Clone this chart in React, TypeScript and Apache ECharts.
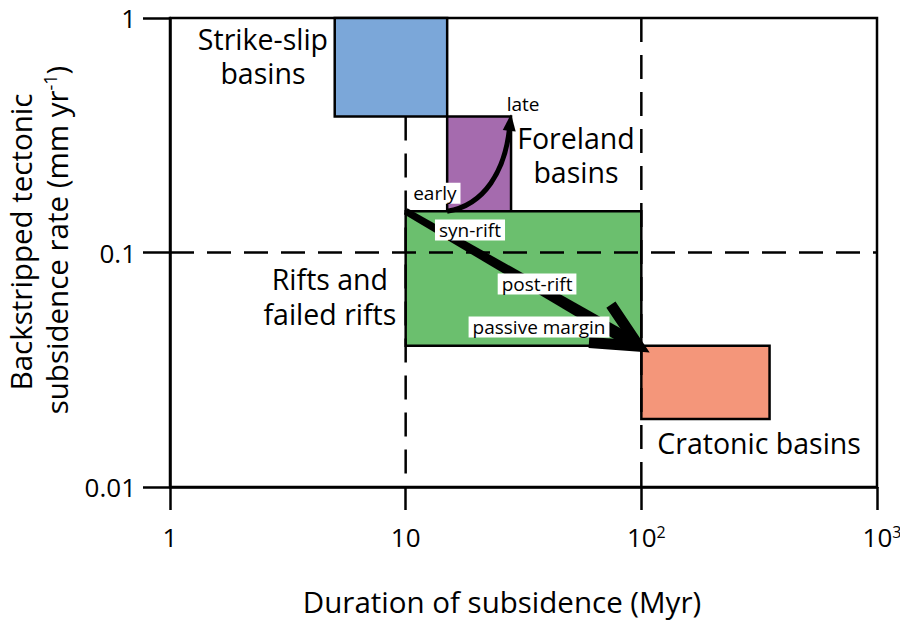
import React, { useEffect, useRef } from "react";
import * as echarts from "echarts";

const FONT = "'Open Sans', 'Noto Sans', sans-serif";

// Basin fields: duration of subsidence (Myr) and backstripped subsidence rate (mm/yr)
const basinNames = ["Strike-slip\nbasins", "Foreland\nbasins", "Rifts and\nfailed rifts", "Cratonic basins"];
const durationMin = [5, 15, 10, 100];
const durationMax = [15, 28, 100, 350];
const rateMin = [0.38, 0.15, 0.04, 0.0195];
const rateMax = [1, 0.38, 0.15, 0.04];
const nameX = [2.48, 52.8, 4.77, 316];
const nameY = [0.69, 0.26, 0.065, 0.0154];
const basinColors = ["#7BA7D9", "#A56BAE", "#6BBF6E", "#F4967A"];

// Axis ticks
const xTicks = [1, 10, 100, 1000];
const xTickLabels = ["1", "10", "{gap| }10{sup|2}", "{gap| }10{sup|3}"];
const yTicks = [0.01, 0.1, 1];
const yTickLabels = ["0.01", "0.1", "1"];

// Dashed guide lines (from -> to)
const guideX1 = [10, 100, 1];
const guideY1 = [0.38, 1, 0.1];
const guideX2 = [10, 100, 1000];
const guideY2 = [0.01, 0.01, 0.1];

// Evolution arrows
const forelandArrowX = [15, 21.7, 26.4, 28];
const forelandArrowY = [0.15, 0.159, 0.225, 0.39];
const riftArrowX = [10, 108];
const riftArrowY = [0.15, 0.0376];

// Phase labels
const phaseLabels = ["early", "late", "syn-rift", "post-rift", "passive margin"];
const phaseX = [13.3, 31.5, 18.75, 36.1, 36.8];
const phaseY = [0.179, 0.43, 0.1247, 0.0734, 0.0481];

const tickIndex = (ticks: number[], v: number) =>
  ticks.findIndex((t) => Math.abs(Math.log10(t) - Math.log10(v)) < 1e-6);

function buildOption(): any {
  const basinData = durationMin.map((x, i) => [x, durationMax[i], rateMin[i], rateMax[i]]);
  const guideData = guideX1.map((x, i) => [x, guideY1[i], guideX2[i], guideY2[i]]);
  const riftData = [[riftArrowX[0], riftArrowY[0], riftArrowX[1], riftArrowY[1]]];
  const forelandData = [forelandArrowX.flatMap((x, i) => [x, forelandArrowY[i]])];
  const phaseData = phaseX.map((x, i) => [x, phaseY[i]]);
  const nameData = nameX.map((x, i) => [x, nameY[i]]);

  return {
    animation: false,
    backgroundColor: "#ffffff",
    textStyle: { fontFamily: FONT },
    grid: {
      left: 170,
      right: 23,
      top: 18,
      bottom: 153,
      containLabel: false,
      outerBoundsMode: "none",
      show: true,
      borderColor: "#000",
      borderWidth: 2.5,
      backgroundColor: "transparent",
    },
    xAxis: {
      type: "log",
      logBase: 10,
      min: 1,
      max: 1000,
      axisLine: { show: true, lineStyle: { color: "#000", width: 2.5 } },
      axisTick: { show: true, length: 23, lineStyle: { color: "#000", width: 2.5 } },
      minorTick: { show: false },
      splitLine: { show: false },
      axisLabel: {
        margin: 37,
        fontSize: 26,
        color: "#000",
        fontFamily: FONT,
        hideOverlap: false,
        formatter: (v: number) => {
          const i = tickIndex(xTicks, v);
          return i >= 0 ? xTickLabels[i] : "";
        },
        rich: {
          sup: { fontSize: 16, verticalAlign: "top", color: "#000", fontFamily: FONT },
          gap: { width: 10, fontSize: 16, color: "#000", fontFamily: FONT },
        },
      },
    },
    yAxis: {
      type: "log",
      logBase: 10,
      min: 0.01,
      max: 1,
      axisLine: { show: true, lineStyle: { color: "#000", width: 2.5 } },
      axisTick: { show: true, length: 27, lineStyle: { color: "#000", width: 2.5 } },
      minorTick: { show: false },
      splitLine: { show: false },
      axisLabel: {
        margin: 34,
        fontSize: 26,
        color: "#000",
        fontFamily: FONT,
        formatter: (v: number) => {
          const i = tickIndex(yTicks, v);
          return i >= 0 ? yTickLabels[i] : "";
        },
      },
    },
    graphic: [
      {
        type: "text",
        x: 20,
        y: 242,
        rotation: Math.PI / 2,
        style: {
          text: "Backstripped tectonic",
          fontSize: 29.5,
          fontFamily: FONT,
          fill: "#000",
          align: "center",
          verticalAlign: "middle",
        },
      },
      {
        type: "text",
        x: 56,
        y: 240,
        rotation: Math.PI / 2,
        style: {
          text: "subsidence rate (mm yr{sup|-1})",
          fontSize: 29.5,
          fontFamily: FONT,
          fill: "#000",
          align: "center",
          verticalAlign: "middle",
          rich: {
            sup: { fontSize: 18, fontFamily: FONT, fill: "#000", verticalAlign: "top" },
          },
        },
      },
      {
        type: "text",
        x: 502,
        y: 601,
        style: {
          text: "Duration of subsidence (Myr)",
          fontSize: 29.5,
          fontFamily: FONT,
          fill: "#000",
          align: "center",
          verticalAlign: "middle",
        },
      },
    ],
    series: [
      {
        type: "custom",
        name: "basins",
        z: 1,
        data: basinData,
        encode: { x: [0, 1], y: [2, 3] },
        renderItem: (params: any, api: any) => {
          const i = params.dataIndex;
          const p1 = api.coord([api.value(0), api.value(3)]);
          const p2 = api.coord([api.value(1), api.value(2)]);
          return {
            type: "rect",
            shape: { x: p1[0], y: p1[1], width: p2[0] - p1[0], height: p2[1] - p1[1] },
            style: { fill: basinColors[i], stroke: "#000", lineWidth: 2.5 },
          };
        },
      },
      {
        type: "custom",
        name: "guides",
        z: 2,
        data: guideData,
        encode: { x: [0, 2], y: [1, 3] },
        renderItem: (params: any, api: any) => {
          const a = api.coord([api.value(0), api.value(1)]);
          const b = api.coord([api.value(2), api.value(3)]);
          return {
            type: "line",
            shape: { x1: a[0], y1: a[1], x2: b[0], y2: b[1] },
            style: { stroke: "#000", lineWidth: 2.5, lineDash: [24, 13], fill: "none" },
          };
        },
      },
      {
        type: "custom",
        name: "rift arrow",
        z: 3,
        data: riftData,
        encode: { x: [0, 2], y: [1, 3] },
        renderItem: (params: any, api: any) => {
          const s = api.coord([api.value(0), api.value(1)]);
          const t = api.coord([api.value(2), api.value(3)]);
          const dx = t[0] - s[0];
          const dy = t[1] - s[1];
          const L = Math.hypot(dx, dy);
          const ux = dx / L;
          const uy = dy / L;
          const nx = -uy;
          const ny = ux;
          const e = [t[0] - ux * 16, t[1] - uy * 16];
          const w0 = 3.5;
          const w1 = 6.5;
          const V = [t[0] - ux * 12, t[1] - uy * 12];
          const a = (26 * Math.PI) / 180;
          const bx = -ux;
          const by = -uy;
          const rot = (ang: number) => [bx * Math.cos(ang) - by * Math.sin(ang), bx * Math.sin(ang) + by * Math.cos(ang)];
          const r1 = rot(a);
          const r2 = rot(-a);
          const armLen = 50;
          return {
            type: "group",
            children: [
              {
                type: "polygon",
                shape: {
                  points: [
                    [s[0] + nx * w0, s[1] + ny * w0],
                    [e[0] + nx * w1, e[1] + ny * w1],
                    [e[0] - nx * w1, e[1] - ny * w1],
                    [s[0] - nx * w0, s[1] - ny * w0],
                  ],
                },
                style: { fill: "#000" },
              },
              {
                type: "polyline",
                shape: {
                  points: [
                    [V[0] + r1[0] * armLen, V[1] + r1[1] * armLen],
                    V,
                    [V[0] + r2[0] * armLen, V[1] + r2[1] * armLen],
                  ],
                },
                style: { stroke: "#000", lineWidth: 11, lineJoin: "miter", miterLimit: 4, fill: "none" },
              },
            ],
          };
        },
      },
      {
        type: "custom",
        name: "foreland arrow",
        z: 3,
        data: forelandData,
        encode: { x: [0, 2, 4, 6], y: [1, 3, 5, 7] },
        renderItem: (params: any, api: any) => {
          const p0 = api.coord([api.value(0), api.value(1)]);
          const p1 = api.coord([api.value(2), api.value(3)]);
          const p2 = api.coord([api.value(4), api.value(5)]);
          const p3 = api.coord([api.value(6), api.value(7)]);
          const dx = p3[0] - p2[0];
          const dy = p3[1] - p2[1];
          const L = Math.hypot(dx, dy);
          const ux = dx / L;
          const uy = dy / L;
          const nx = -uy;
          const ny = ux;
          const headLen = 17;
          const hw = 6.5;
          const b = [p3[0] - ux * headLen, p3[1] - uy * headLen];
          return {
            type: "group",
            children: [
              {
                type: "bezierCurve",
                shape: {
                  x1: p0[0],
                  y1: p0[1],
                  cpx1: p1[0],
                  cpy1: p1[1],
                  cpx2: p2[0],
                  cpy2: p2[1],
                  x2: b[0] + ux * 2,
                  y2: b[1] + uy * 2,
                },
                style: { stroke: "#000", lineWidth: 5, fill: "none" },
              },
              {
                type: "polygon",
                shape: {
                  points: [
                    [p3[0], p3[1]],
                    [b[0] + nx * hw, b[1] + ny * hw],
                    [b[0] - nx * hw, b[1] - ny * hw],
                  ],
                },
                style: { fill: "#000" },
              },
            ],
          };
        },
      },
      {
        type: "custom",
        name: "phase labels",
        z: 4,
        data: phaseData,
        encode: { x: 0, y: 1 },
        renderItem: (params: any, api: any) => {
          const p = api.coord([api.value(0), api.value(1)]);
          return {
            type: "text",
            x: p[0],
            y: p[1],
            style: {
              text: phaseLabels[params.dataIndex],
              fontSize: 19,
              fontFamily: FONT,
              fill: "#000",
              align: "center",
              verticalAlign: "middle",
              backgroundColor: "#ffffff",
              padding: [1, 4, 1, 4],
            },
          };
        },
      },
      {
        type: "custom",
        name: "basin names",
        z: 4,
        data: nameData,
        encode: { x: 0, y: 1 },
        renderItem: (params: any, api: any) => {
          const p = api.coord([api.value(0), api.value(1)]);
          return {
            type: "text",
            x: p[0],
            y: p[1],
            style: {
              text: basinNames[params.dataIndex],
              fontSize: 28.5,
              lineHeight: 34.5,
              fontFamily: FONT,
              fill: "#000",
              align: "center",
              verticalAlign: "middle",
            },
          };
        },
      },
    ],
  };
}

export default function App() {
  const ref = useRef<HTMLDivElement>(null);
  useEffect(() => {
    if (!ref.current) return;
    const chart = echarts.init(ref.current, null, { renderer: "svg" });
    chart.setOption(buildOption());
    return () => {
      chart.dispose();
    };
  }, []);
  return (
    <div
      ref={ref}
      style={{ position: "absolute", left: 0, top: 0, width: 900, height: 640, background: "#ffffff" }}
    />
  );
}
